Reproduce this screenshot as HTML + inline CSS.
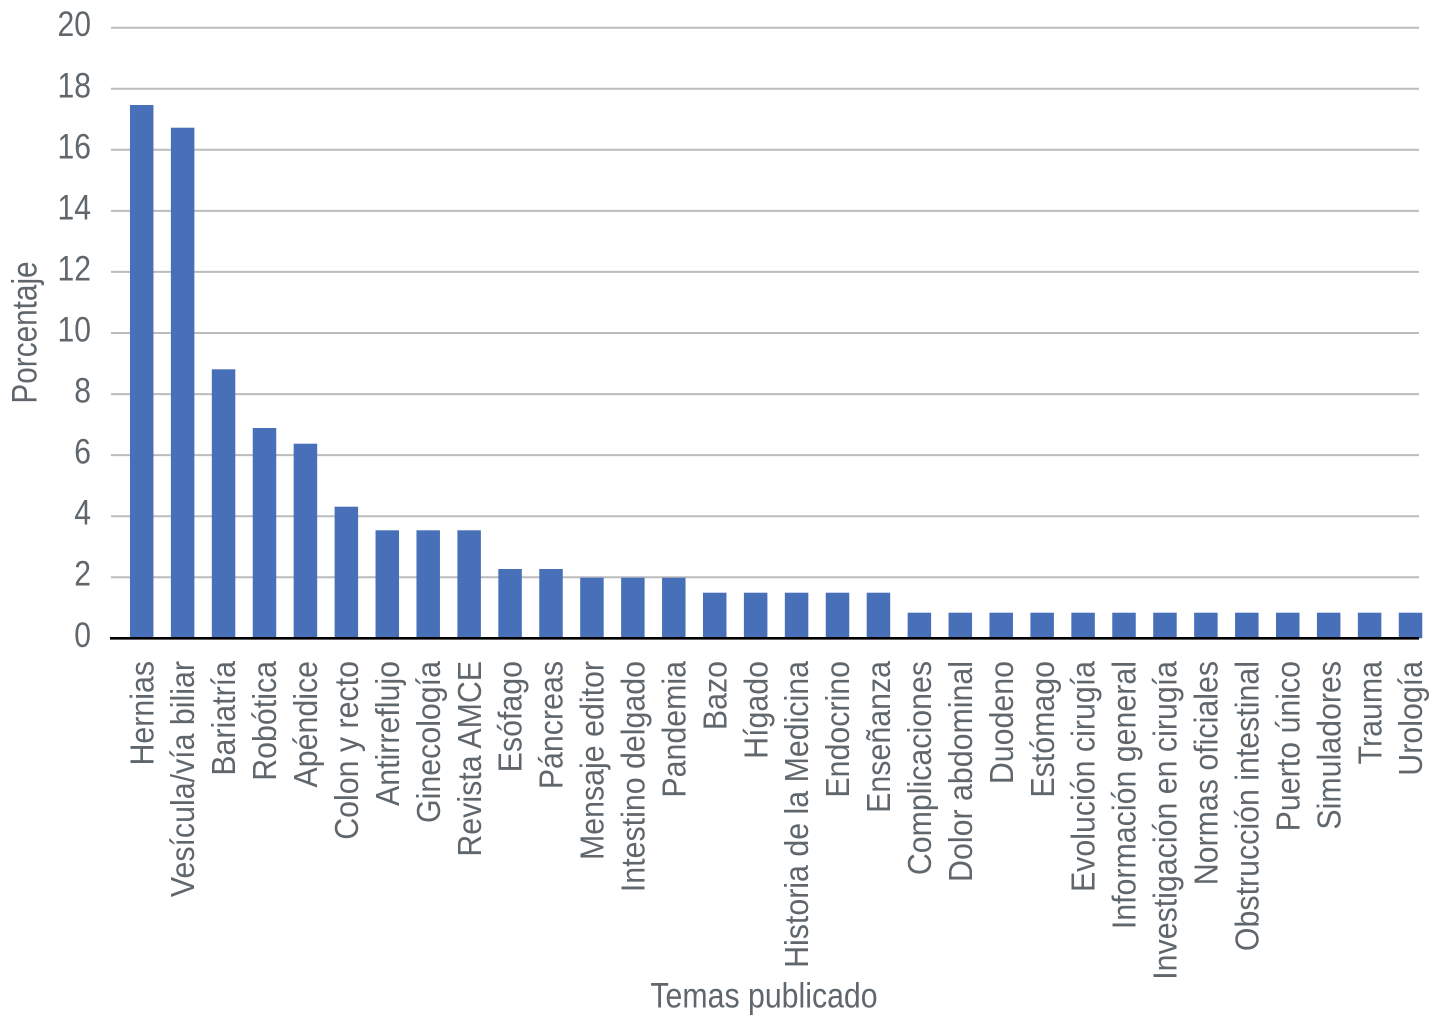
<!DOCTYPE html>
<html>
<head>
<meta charset="utf-8">
<style>
  html,body{margin:0;padding:0;background:#fff;}
  svg{display:block;}
  text{font-family:"Liberation Sans",Arial,sans-serif;fill:#5f676d;}
</style>
</head>
<body>
<svg width="1438" height="1024" viewBox="0 0 1438 1024" xmlns="http://www.w3.org/2000/svg">
  <rect width="1438" height="1024" fill="#fff"/>
  <!-- gridlines -->
  <g stroke="#bcbcbc" stroke-width="2">
    <line x1="111" y1="27.7" x2="1419" y2="27.7"/>
    <line x1="111" y1="88.8" x2="1419" y2="88.8"/>
    <line x1="111" y1="149.8" x2="1419" y2="149.8"/>
    <line x1="111" y1="210.9" x2="1419" y2="210.9"/>
    <line x1="111" y1="271.9" x2="1419" y2="271.9"/>
    <line x1="111" y1="333.0" x2="1419" y2="333.0"/>
    <line x1="111" y1="394.1" x2="1419" y2="394.1"/>
    <line x1="111" y1="455.1" x2="1419" y2="455.1"/>
    <line x1="111" y1="516.2" x2="1419" y2="516.2"/>
    <line x1="111" y1="577.2" x2="1419" y2="577.2"/>
  </g>
  <!-- y tick labels -->
  <g font-size="35" text-anchor="end">
    <text transform="translate(91,36.2) scale(0.86,1)">20</text>
    <text transform="translate(91,97.3) scale(0.86,1)">18</text>
    <text transform="translate(91,158.3) scale(0.86,1)">16</text>
    <text transform="translate(91,219.4) scale(0.86,1)">14</text>
    <text transform="translate(91,280.4) scale(0.86,1)">12</text>
    <text transform="translate(91,341.5) scale(0.86,1)">10</text>
    <text transform="translate(91,402.6) scale(0.86,1)">8</text>
    <text transform="translate(91,463.6) scale(0.86,1)">6</text>
    <text transform="translate(91,524.7) scale(0.86,1)">4</text>
    <text transform="translate(91,585.7) scale(0.86,1)">2</text>
    <text transform="translate(91,646.8) scale(0.86,1)">0</text>
  </g>
  <!-- bars -->
  <g fill="#4870b9">
    <rect x="129.95" y="105" width="23.5" height="533.3"/>
    <rect x="170.88" y="127.7" width="23.5" height="510.6"/>
    <rect x="211.81" y="369.3" width="23.5" height="269"/>
    <rect x="252.74" y="428" width="23.5" height="210.3"/>
    <rect x="293.67" y="443.7" width="23.5" height="194.6"/>
    <rect x="334.60" y="506.7" width="23.5" height="131.6"/>
    <rect x="375.53" y="530.3" width="23.5" height="108"/>
    <rect x="416.46" y="530.3" width="23.5" height="108"/>
    <rect x="457.39" y="530.3" width="23.5" height="108"/>
    <rect x="498.32" y="569" width="23.5" height="69.3"/>
    <rect x="539.25" y="569" width="23.5" height="69.3"/>
    <rect x="580.18" y="577.7" width="23.5" height="60.6"/>
    <rect x="621.11" y="577.7" width="23.5" height="60.6"/>
    <rect x="662.04" y="577.7" width="23.5" height="60.6"/>
    <rect x="702.97" y="592.7" width="23.5" height="45.6"/>
    <rect x="743.90" y="592.7" width="23.5" height="45.6"/>
    <rect x="784.83" y="592.7" width="23.5" height="45.6"/>
    <rect x="825.76" y="592.7" width="23.5" height="45.6"/>
    <rect x="866.69" y="592.7" width="23.5" height="45.6"/>
    <rect x="907.62" y="612.7" width="23.5" height="25.6"/>
    <rect x="948.55" y="612.7" width="23.5" height="25.6"/>
    <rect x="989.48" y="612.7" width="23.5" height="25.6"/>
    <rect x="1030.41" y="612.7" width="23.5" height="25.6"/>
    <rect x="1071.34" y="612.7" width="23.5" height="25.6"/>
    <rect x="1112.27" y="612.7" width="23.5" height="25.6"/>
    <rect x="1153.20" y="612.7" width="23.5" height="25.6"/>
    <rect x="1194.13" y="612.7" width="23.5" height="25.6"/>
    <rect x="1235.06" y="612.7" width="23.5" height="25.6"/>
    <rect x="1275.99" y="612.7" width="23.5" height="25.6"/>
    <rect x="1316.92" y="612.7" width="23.5" height="25.6"/>
    <rect x="1357.85" y="612.7" width="23.5" height="25.6"/>
    <rect x="1398.78" y="612.7" width="23.5" height="25.6"/>
  </g>
  <!-- baseline -->
  <line x1="110" y1="638.3" x2="1419" y2="638.3" stroke="#000" stroke-width="2.7"/>
  <!-- category labels -->
  <g font-size="33" text-anchor="end">
    <text transform="translate(153.3,661) rotate(-90) scale(0.92,1)">Hernias</text>
    <text transform="translate(194.2,661) rotate(-90) scale(0.92,1)">Vesícula/vía biliar</text>
    <text transform="translate(235.2,661) rotate(-90) scale(0.92,1)">Bariatría</text>
    <text transform="translate(276.1,661) rotate(-90) scale(0.92,1)">Robótica</text>
    <text transform="translate(317.0,661) rotate(-90) scale(0.92,1)">Apéndice</text>
    <text transform="translate(358.0,661) rotate(-90) scale(0.92,1)">Colon y recto</text>
    <text transform="translate(398.9,661) rotate(-90) scale(0.92,1)">Antirreflujo</text>
    <text transform="translate(439.8,661) rotate(-90) scale(0.92,1)">Ginecología</text>
    <text transform="translate(480.8,661) rotate(-90) scale(0.92,1)">Revista AMCE</text>
    <text transform="translate(521.7,661) rotate(-90) scale(0.92,1)">Esófago</text>
    <text transform="translate(562.6,661) rotate(-90) scale(0.92,1)">Páncreas</text>
    <text transform="translate(603.6,661) rotate(-90) scale(0.92,1)">Mensaje editor</text>
    <text transform="translate(644.5,661) rotate(-90) scale(0.92,1)">Intestino delgado</text>
    <text transform="translate(685.4,661) rotate(-90) scale(0.92,1)">Pandemia</text>
    <text transform="translate(726.3,661) rotate(-90) scale(0.92,1)">Bazo</text>
    <text transform="translate(767.3,661) rotate(-90) scale(0.92,1)">Hígado</text>
    <text transform="translate(808.2,661) rotate(-90) scale(0.92,1)">Historia de la Medicina</text>
    <text transform="translate(849.1,661) rotate(-90) scale(0.92,1)">Endocrino</text>
    <text transform="translate(890.1,661) rotate(-90) scale(0.92,1)">Enseñanza</text>
    <text transform="translate(931.0,661) rotate(-90) scale(0.92,1)">Complicaciones</text>
    <text transform="translate(971.9,661) rotate(-90) scale(0.92,1)">Dolor abdominal</text>
    <text transform="translate(1012.9,661) rotate(-90) scale(0.92,1)">Duodeno</text>
    <text transform="translate(1053.8,661) rotate(-90) scale(0.92,1)">Estómago</text>
    <text transform="translate(1094.7,661) rotate(-90) scale(0.92,1)">Evolución cirugía</text>
    <text transform="translate(1135.7,661) rotate(-90) scale(0.92,1)">Información general</text>
    <text transform="translate(1176.6,661) rotate(-90) scale(0.92,1)">Investigación en cirugía</text>
    <text transform="translate(1217.5,661) rotate(-90) scale(0.92,1)">Normas oficiales</text>
    <text transform="translate(1258.5,661) rotate(-90) scale(0.92,1)">Obstrucción intestinal</text>
    <text transform="translate(1299.4,661) rotate(-90) scale(0.92,1)">Puerto único</text>
    <text transform="translate(1340.3,661) rotate(-90) scale(0.92,1)">Simuladores</text>
    <text transform="translate(1381.3,661) rotate(-90) scale(0.92,1)">Trauma</text>
    <text transform="translate(1422.2,661) rotate(-90) scale(0.92,1)">Urología</text>
  </g>
  <!-- axis titles -->
  <text font-size="35" text-anchor="middle" transform="translate(36.5,332.5) rotate(-90) scale(0.85,1)">Porcentaje</text>
  <text font-size="35" text-anchor="middle" transform="translate(764,1007.5) scale(0.865,1)">Temas publicado</text>
</svg>
</body>
</html>
